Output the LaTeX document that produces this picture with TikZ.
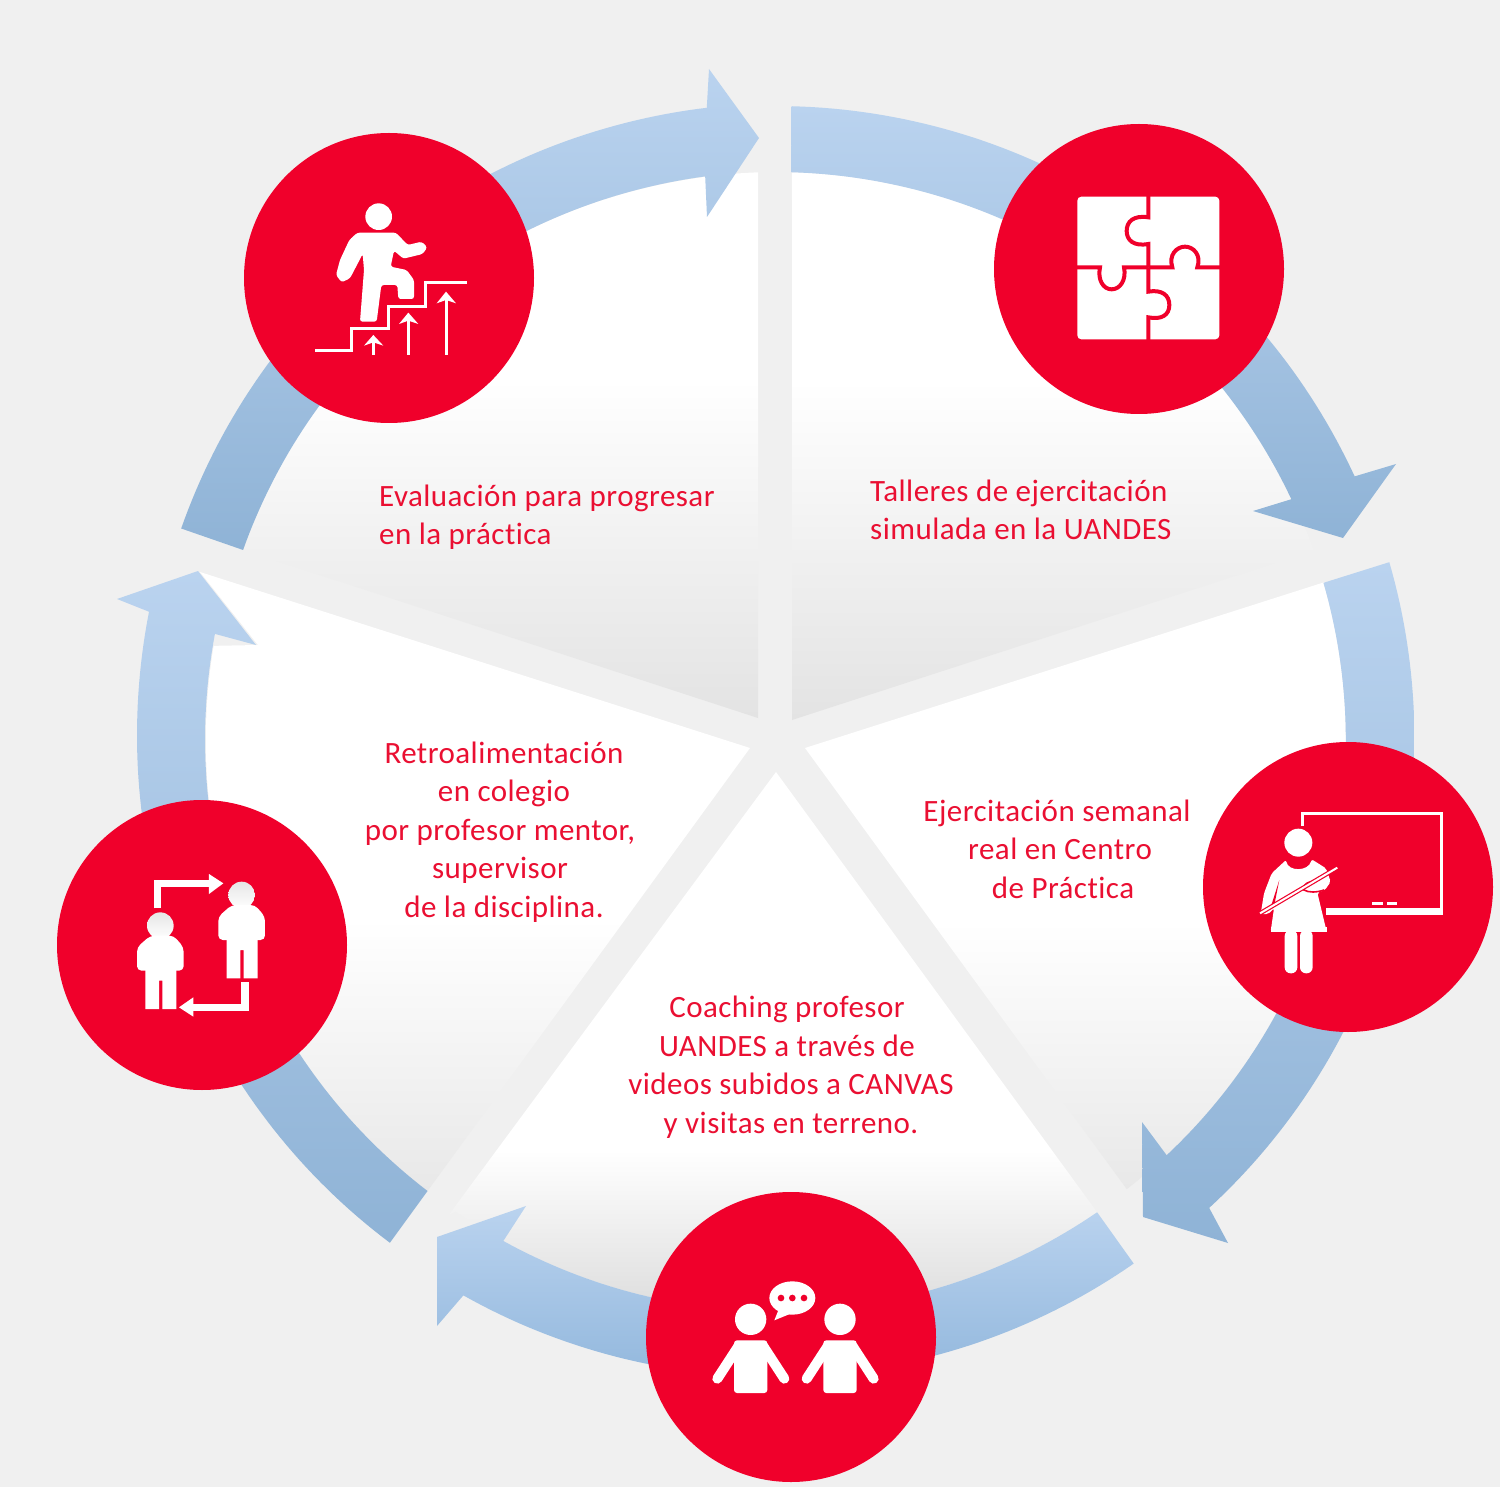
\documentclass[tikz,border=0pt]{standalone}
\usepackage{fontspec}
\setmainfont{Carlito}[LetterSpace=1.5,Ligatures=NoCommon]
\definecolor{bgc}{HTML}{F0F0F0}
\definecolor{redc}{HTML}{F0002B}
\definecolor{txtc}{HTML}{EA0F32}
\definecolor{ringtop}{HTML}{BAD3EF}
\definecolor{ringbot}{HTML}{8FB3D6}
\definecolor{ringbotb}{HTML}{93B8DD}
\definecolor{gA}{HTML}{E3E3E3}
\definecolor{gB}{HTML}{F0F0F0}
\definecolor{gC}{HTML}{E8E8E8}
\definecolor{gD}{HTML}{DDDDDD}
\definecolor{hd}{HTML}{E6E6E6}
\pgfdeclareverticalshading{wedgetop}{100bp}{color(0bp)=(gA);color(25bp)=(gA);color(40bp)=(gB);color(56bp)=(white);color(100bp)=(white)}
\pgfdeclareverticalshading{wedgeside}{100bp}{color(0bp)=(gC);color(25bp)=(gC);color(47bp)=(white);color(100bp)=(white)}
\pgfdeclareverticalshading{wedgebot}{100bp}{color(0bp)=(gD);color(25bp)=(gD);color(40bp)=(white);color(100bp)=(white)}
% arc about (776,745) from angle #1 to #2, radius going linearly from #3 to #4
\newcommand{\arcS}[4]{plot[domain=#1:#2,samples=70]({776+(#3+(#4-#3)*(\x-(#1))/((#2)-(#1)))*cos(\x)},{745+(#3+(#4-#3)*(\x-(#1))/((#2)-(#1)))*sin(\x)})}
\newcommand{\arcC}[4]{-- plot[domain=#1:#2,samples=70]({776+(#3+(#4-#3)*(\x-(#1))/((#2)-(#1)))*cos(\x)},{745+(#3+(#4-#3)*(\x-(#1))/((#2)-(#1)))*sin(\x)})}
\tikzset{
  badge/.style={circle,fill=redc,draw=none,minimum size=290,inner sep=0},
  caption/.style={text=txtc,font=\fontsize{31}{38.5}\selectfont,inner sep=0},
  ringseg/.style={top color=ringtop,bottom color=ringbot,draw=none},
  icon/.style={fill=white,draw=none},
  iconline/.style={draw=white,fill=none},
}
\begin{document}
\begin{tikzpicture}[x=1pt,y=-1pt]
\useasboundingbox (0,0) rectangle (1500,1487);
\fill[bgc] (0,0) rectangle (1500,1487);
% wedges
\shade[shading=wedgetop] (792,720) -- (1318,549) \arcC{-19.5}{-88.4}{572}{573} -- cycle;
\shade[shading=wedgetop] (758,718) -- (243,550) \arcC{200.1}{268.2}{568}{573} -- cycle;
\shade[shading=wedgeside] (750,748) -- (200,572) -- (258,645) \arcC{190}{128}{571}{566} -- cycle;
\shade[shading=wedgeside] (805,748) -- (1325,582) \arcC{-16.5}{51.7}{571}{566} -- cycle;
\shade[shading=wedgebot] (776,772) -- (448,1216) \arcC{124.5}{55.5}{566}{567} -- cycle;
% ring segments
\shade[ringseg] \arcS{-88.6}{-24.9}{639}{638} -- (1396,464) -- (1343,538) -- (1253,511) \arcC{-25.5}{-88.5}{571}{573} -- cycle;
\shade[ringseg] \arcS{-16.6}{46.9}{640}{634} -- (1228,1243) -- (1143,1217) -- (1142,1122) \arcC{46.4}{-16.5}{566.5}{571} -- cycle;
\shade[ringseg,bottom color=ringbotb] \arcS{55.4}{119.6}{630}{633} -- (437,1326) -- (437,1237) -- (526,1206) \arcC{118.8}{55.5}{566}{567} -- cycle;
\shade[ringseg] \arcS{127.8}{192}{630}{641} -- (117,599) -- (198,571) -- (256,645) \arcC{191.2}{128}{572}{566} -- cycle;
\shade[ringseg] \arcS{200}{263.8}{633}{641} -- (709,69) -- (759,138) -- (707,217) \arcC{262.9}{200.1}{573}{567.5} -- cycle;
% badges
\node[badge] (climb) at (389,278) {};
\node[badge] (puzzle) at (1139,269) {};
\node[badge] (teach) at (1348,887) {};
\node[badge] (talk) at (791,1337) {};
\node[badge] (swap) at (202,945) {};
% icon: climbing person
\begin{scope}[shift={(240,130)},scale=0.33333]
\fill[icon] (416,260) circle (40);
\fill[icon,rounded corners=2.5pt] (352,308) -- (468,308) -- (503,345) -- (545,335) -- (562,352) -- (548,372) -- (490,386) -- (462,362) -- (452,410) -- (500,420) -- (522,450) -- (522,507) -- (475,507) -- (472,465) -- (424,465) -- (410,575) -- (360,575) -- (372,420) -- (368,372) -- (330,445) -- (305,457) -- (288,435) -- (300,390) -- (328,330) -- cycle;
\draw[iconline,line width=3pt] (225,663) -- (335,663) -- (335,597) -- (445,597) -- (445,530) -- (555,530) -- (555,458) -- (680,458);
\draw[iconline,line width=3pt] (400,675) -- (400,630);
\draw[iconline,line width=3pt] (505,675) -- (505,570);
\draw[iconline,line width=3pt] (618,675) -- (618,505);
\fill[icon] (400,615) -- (430,647) -- (400,637) -- (372,647) -- cycle;
\fill[icon] (505,548) -- (535,582) -- (505,572) -- (477,582) -- cycle;
\fill[icon] (618,485) -- (648,520) -- (618,510) -- (590,520) -- cycle;
\end{scope}
% icon: puzzle
\begin{scope}[shift={(990,120)},scale=0.33333]
\fill[icon,rounded corners=4pt] (262,230) rectangle (688,658);
\draw[redc,line width=4pt] (475,225) -- (475,292) .. controls (430,285) and (410,305) .. (410,333) .. controls (410,360) and (430,380) .. (475,372) -- (475,442);
\draw[redc,line width=4pt] (255,442) -- (330,442) .. controls (322,480) and (340,508) .. (365,508) .. controls (390,508) and (410,480) .. (402,442) -- (475,442);
\draw[redc,line width=4pt] (475,442) -- (547,442) .. controls (535,405) and (560,380) .. (585,380) .. controls (610,380) and (635,405) .. (622,442) -- (695,442);
\draw[redc,line width=4pt] (475,442) -- (475,515) .. controls (515,508) and (538,525) .. (538,555) .. controls (538,585) and (515,600) .. (475,592) -- (475,665);
\end{scope}
% icon: teacher
\begin{scope}[shift={(1200,740)},scale=0.33333]
\draw[iconline,line width=3.3pt] (308,258) -- (308,220) -- (725,220) -- (725,510);
\fill[icon] (378,503) rectangle (730,525);
\fill[icon] (517,486) rectangle (548,494);
\fill[icon] (560,486) rectangle (592,494);
\fill[icon] (295,308) circle (42);
\fill[icon,rounded corners=2pt] (258,360) .. controls (265,395) and (325,395) .. (335,358) -- (378,385) -- (392,425) -- (375,450) -- (352,458) -- (380,575) -- (212,575) -- (222,505) -- (205,522) -- (182,522) -- (192,460) -- (215,400) -- cycle;
\fill[icon,rounded corners=6pt] (254,570) rectangle (292,700);
\fill[icon,rounded corners=6pt] (300,570) rectangle (338,700);
\fill[icon] (212,560) rectangle (380,575);
\fill[redc] (238,420) -- (224,490) -- (210,508) -- cycle;
\draw[redc,line width=1.6pt] (352,422) .. controls (325,425) and (305,432) .. (312,450) .. controls (325,458) and (350,458) .. (372,450);
\draw[redc,line width=4.4pt] (180,520) -- (412,383);
\draw[white,line width=2pt] (180,520) -- (412,383);
\end{scope}
% icon: two people talking
\begin{scope}[shift={(640,1187)},scale=0.33333]
\foreach \dx in {0,268} {
\begin{scope}[xshift=\dx]
\fill[icon] (332,397) circle (47);
\fill[icon,rounded corners=3pt] (282,460) rectangle (382,618);
\draw[iconline,line width=10pt,line cap=round] (295,478) -- (232,575);
\draw[iconline,line width=10pt,line cap=round] (370,478) -- (433,575);
\end{scope}
}
\fill[icon] (457,333) ellipse (69 and 50);
\fill[icon] (415,370) -- (403,400) -- (452,380) -- cycle;
\fill[redc] (423,333) circle (10);
\fill[redc] (457,333) circle (10);
\fill[redc] (492,333) circle (10);
\end{scope}
% icon: two people and cycle arrows
\begin{scope}[shift={(55,795)},scale=0.33333]
\foreach \dx/\dy in {0/0,-244/92} {
\begin{scope}[xshift=\dx,yshift=-\dy]
\shade[top color=hd,bottom color=white] (560,300) circle (40);
\fill[icon,rounded corners=4.5pt] (490,435) -- (490,365) -- (530,330) -- (600,330) -- (630,365) -- (630,435) -- cycle;
\fill[icon] (515,425) -- (515,550) -- (556,550) -- (556,465) -- (566,465) -- (566,550) -- (608,550) -- (608,425) -- cycle;
\end{scope}
}
\draw[iconline,line width=7.5pt] (307,340) -- (307,265) -- (470,265);
\fill[icon] (462,237) -- (505,265) -- (462,297) -- cycle;
\draw[iconline,line width=7.5pt] (570,562) -- (570,637) -- (410,637);
\fill[icon] (415,607) -- (372,637) -- (415,665) -- cycle;
\end{scope}
% captions
\node[caption,align=left,anchor=west] (eval) at (379,517) {Evaluación para progresar\\en la práctica};
\node[caption,align=left,anchor=west] (taller) at (870,510) {Talleres de ejercitación\\simulada en la UANDES};
\node[caption,align=center] (retro) at (504,832) {Retroalimentación\\en colegio\\\hspace*{-8pt}por profesor mentor,\\\hspace*{-8pt}supervisor\\de la disciplina.};
\node[caption,align=center] (ejer) at (1060,849) {\hspace*{-6pt}Ejercitación semanal\\real en Centro\\\hspace*{6pt}de Práctica};
\node[caption,align=center] (coach) at (789,1067) {\hspace*{-4pt}Coaching profesor\\\hspace*{-4pt}UANDES a través de\\\hspace*{4pt}videos subidos a CANVAS\\\hspace*{4pt}y visitas en terreno.};
\end{tikzpicture}
\end{document}
